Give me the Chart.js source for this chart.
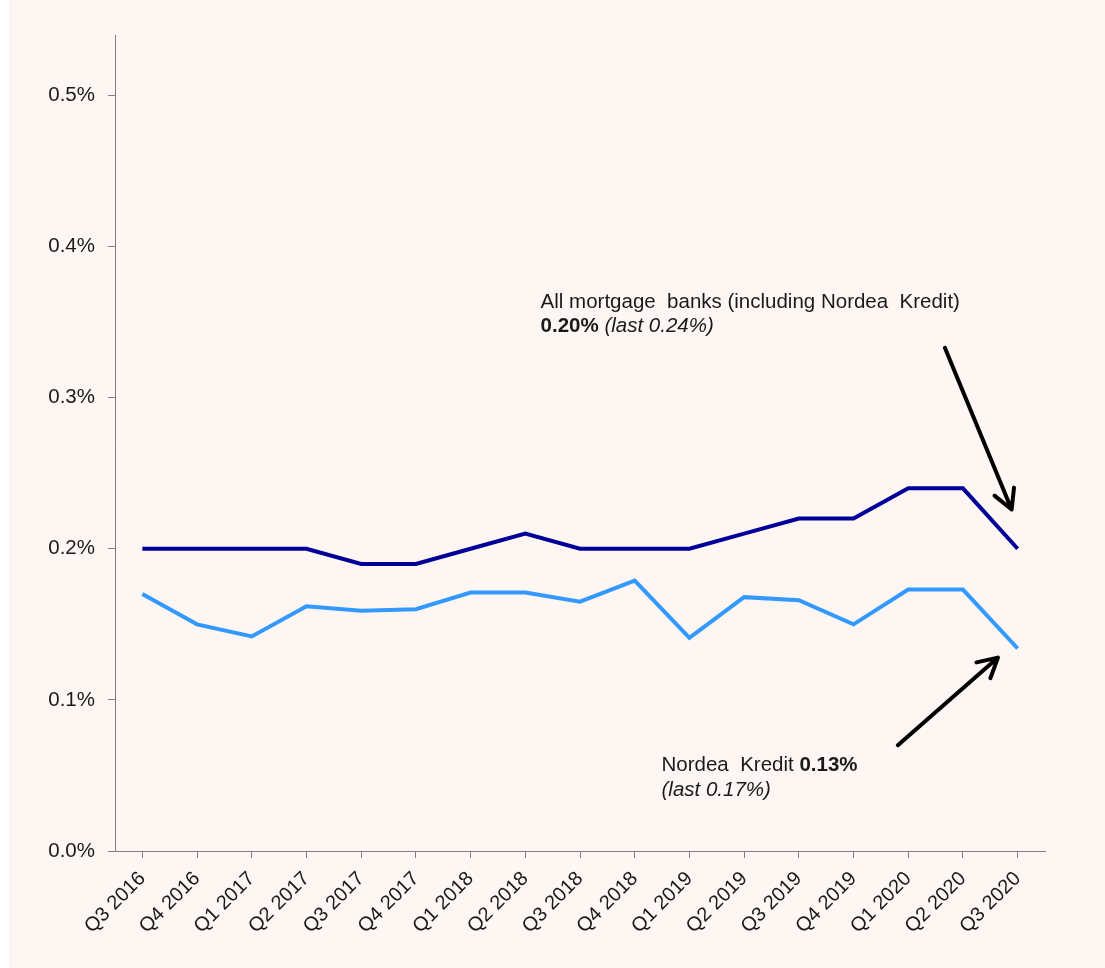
<!DOCTYPE html>
<html>
<head>
<meta charset="utf-8">
<script src="https://cdn.jsdelivr.net/npm/chart.js@4"></script>
<style>
  html, body { margin: 0; padding: 0; background: #ffffff; }
  #wrap { position: absolute; left: 9px; top: 0; width: 1096px; height: 968px; background: #fdf6f3; }
</style>
</head>
<body>
<div id="wrap"><canvas id="lossChart"></canvas></div>
<script>
// quarters on the x axis
const quarters = ["Q3 2016", "Q4 2016", "Q1 2017", "Q2 2017", "Q3 2017", "Q4 2017",
  "Q1 2018", "Q2 2018", "Q3 2018", "Q4 2018", "Q1 2019", "Q2 2019", "Q3 2019",
  "Q4 2019", "Q1 2020", "Q2 2020", "Q3 2020"];

// all mortgage banks (incl. Nordea Kredit), in %
const allBanks = [0.20, 0.20, 0.20, 0.20, 0.19, 0.19, 0.20, 0.21, 0.20, 0.20, 0.20,
  0.21, 0.22, 0.22, 0.24, 0.24, 0.20];

// Nordea Kredit, in %
const nordeaKredit = [0.170, 0.150, 0.142, 0.162, 0.159, 0.160, 0.171, 0.171, 0.165,
  0.179, 0.141, 0.168, 0.166, 0.150, 0.173, 0.173, 0.134];

const yTicks = [0, 0.1, 0.2, 0.3, 0.4, 0.5];

const font = "'Liberation Sans', Arial, sans-serif";

// text + arrows, placed in data space (category index, %)
const notesPlugin = {
  id: "notes",
  afterDatasetsDraw(chart) {
    const c = chart.ctx;
    const x = chart.scales.x, y = chart.scales.y;
    const px = (i) => x.getPixelForValue(i);
    const py = (v) => y.getPixelForValue(v);

    function arrow(i1, v1, i2, v2) {
      const x1 = px(i1), y1 = py(v1), x2 = px(i2), y2 = py(v2);
      const a = Math.atan2(y2 - y1, x2 - x1);
      const h = 22;
      c.save();
      c.strokeStyle = "#000";
      c.lineWidth = 4;
      c.lineCap = "round";
      c.lineJoin = "round";
      c.beginPath();
      c.moveTo(x1, y1);
      c.lineTo(x2, y2);
      c.moveTo(x2 - h * Math.cos(a - 0.5), y2 - h * Math.sin(a - 0.5));
      c.lineTo(x2, y2);
      c.lineTo(x2 - h * Math.cos(a + 0.5), y2 - h * Math.sin(a + 0.5));
      c.stroke();
      c.restore();
    }

    function parts(i, v, segs) {
      let xx = px(i);
      const yy = py(v);
      c.save();
      c.fillStyle = "#1a1a1a";
      c.textBaseline = "middle";
      c.textAlign = "left";
      segs.forEach(s => {
        c.font = s[1] + " 20.5px " + font;
        c.fillText(s[0], xx, yy);
        xx += c.measureText(s[0]).width;
      });
      c.restore();
    }

    arrow(14.67, 0.333, 15.89, 0.226);
    arrow(13.81, 0.070, 15.64, 0.128);

    parts(7.28, 0.363, [["All mortgage  banks (including Nordea  Kredit)", "normal"]]);
    parts(7.28, 0.347, [["0.20%", "bold"], [" (last 0.24%)", "italic"]]);
    parts(9.49, 0.0565, [["Nordea  Kredit ", "normal"], ["0.13%", "bold"]]);
    parts(9.49, 0.0405, [["(last 0.17%)", "italic"]]);
  }
};

new Chart(document.getElementById("lossChart"), {
  type: "line",
  data: {
    labels: quarters,
    datasets: [
      {
        label: "All mortgage banks",
        data: allBanks,
        borderColor: "#000099",
        borderWidth: 4,
        pointRadius: 0,
        tension: 0
      },
      {
        label: "Nordea Kredit",
        data: nordeaKredit,
        borderColor: "#3399ff",
        borderWidth: 4,
        pointRadius: 0,
        tension: 0
      }
    ]
  },
  options: {
    responsive: true,
    maintainAspectRatio: false,
    animation: false,
    layout: { padding: { top: 35, right: 60, left: 0, bottom: 0 } },
    plugins: {
      legend: { display: false },
      tooltip: { enabled: false }
    },
    scales: {
      x: {
        offset: true,
        border: { color: "#808080", width: 1 },
        grid: { offset: false, drawOnChartArea: false, tickLength: 7, color: "#808080" },
        ticks: {
          color: "#1a1a1a",
          font: { family: font, size: 20 },
          maxRotation: 45,
          minRotation: 45,
          autoSkip: false,
          padding: 9
        },
        afterFit: (s) => { s.height = 117; }
      },
      y: {
        min: 0,
        max: 0.54,
        border: { color: "#808080", width: 1 },
        grid: { drawOnChartArea: false, tickLength: 7, color: "#808080" },
        afterBuildTicks: (s) => { s.ticks = yTicks.map(v => ({ value: v })); },
        ticks: {
          color: "#1a1a1a",
          font: { family: font, size: 20.5 },
          padding: 13,
          callback: (v) => v.toFixed(1) + "%"
        },
        afterFit: (s) => { s.width = 106; }
      }
    }
  },
  plugins: [notesPlugin]
});
</script>
</body>
</html>
